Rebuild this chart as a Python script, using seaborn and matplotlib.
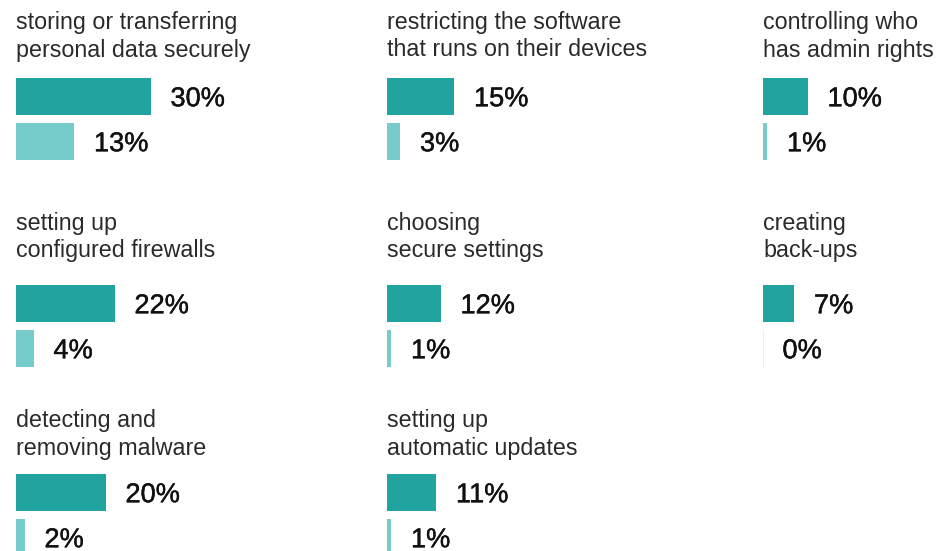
import matplotlib
matplotlib.use("Agg")
import matplotlib.pyplot as plt
import matplotlib.patheffects as pe
import pandas as pd
import seaborn as sns

# survey answers (percent)
topics = [
    "storing or transferring\npersonal data securely",
    "restricting the software\nthat runs on their devices",
    "controlling who\nhas admin rights",
    "setting up\nconfigured firewalls",
    "choosing\nsecure settings",
    "creating\nback-ups",
    "detecting and\nremoving malware",
    "setting up\nautomatic updates",
]
first_values = [30, 15, 10, 22, 12, 7, 20, 11]
second_values = [13, 3, 1, 4, 1, 0, 2, 1]
series = ["first", "second"]

# styling / layout (pixels, figure is 937x551 at dpi 100)
DARK = "#21A39F"
LIGHT = "#75CCCB"
W, H = 937, 551
col_left = [16, 387, 763]
row_bar_top = [78, 285, 474]
row_title_base = [29, 230, 427]
line_step = 27.5
px_per_pct = 4.5
bar_px, step_px = 37, 45
ax_w = 170
num_size = 19.6

sns.set_theme(style="white")
plt.rcParams["font.family"] = ["Liberation Sans", "DejaVu Sans"]

fig = plt.figure(figsize=(W / 100, H / 100), dpi=100)

for i, topic in enumerate(topics):
    row, col = divmod(i, 3)
    left = col_left[col]
    top = row_bar_top[row] - (step_px - bar_px) / 2
    ax = fig.add_axes([left / W, 1 - (top + 2 * step_px) / H, ax_w / W, 2 * step_px / H])

    df = pd.DataFrame({"series": series, "value": [first_values[i], second_values[i]]})
    sns.barplot(data=df, x="value", y="series", hue="series", palette=[DARK, LIGHT],
                orient="h", width=bar_px / step_px, saturation=1, legend=False, ax=ax,
                edgecolor=None, linewidth=0)
    # a zero answer still shows as a hairline in the original
    if second_values[i] == 0:
        ax.axvline(0.05, ymin=0.05, ymax=0.46, color=LIGHT, alpha=0.25, lw=0.6)
    ax.set_xlim(0, ax_w / px_per_pct)
    ax.set_ylim(1.5, -0.5)
    ax.set_axis_off()

    for j, v in enumerate(df["value"]):
        ax.annotate(f"{v}%", xy=(v, j), xytext=(14.0, -0.358 * num_size), textcoords="offset points",
                    ha="left", va="baseline", fontsize=num_size, color="#111111",
                    path_effects=[pe.withStroke(linewidth=0.3, foreground="#111111")])

    # two-line title above the bars
    for k, line in enumerate(topic.split("\n")):
        y = row_title_base[row] + k * line_step
        fig.text(left / W, 1 - y / H, line, ha="left", va="baseline",
                 fontsize=16.75, color="#2a2a2a")

fig.savefig("out.png", dpi=100)
